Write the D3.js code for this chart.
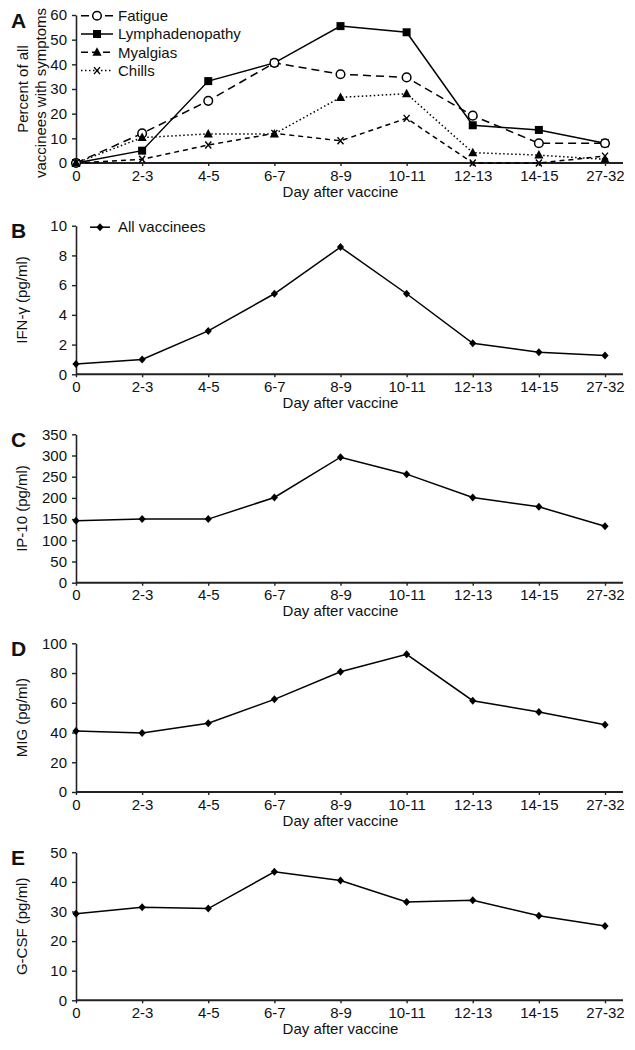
<!DOCTYPE html>
<html>
<head>
<meta charset="utf-8">
<script src="https://cdn.jsdelivr.net/npm/d3@7"></script>
<style>
  html, body { margin: 0; padding: 0; background: #fff; }
  svg { display: block; }
  text { font-family: "Liberation Sans", Arial, sans-serif; fill: #111; }
</style>
</head>
<body>
<svg id="chart" width="635" height="1050"></svg>
<script>
// ---------------- DATA ----------------
const days = ["0", "2-3", "4-5", "6-7", "8-9", "10-11", "12-13", "14-15", "27-32"];

// Panel A: percent of vaccinees with symptoms
const fatigue         = [0, 12.0, 25.2, 40.6, 36.0, 34.7, 19.2, 8.0, 8.0];
const lymphadenopathy = [0, 5.0, 33.2, 40.6, 55.5, 53.0, 15.3, 13.4, 8.0];
const myalgias        = [0, 10.3, 11.8, 11.8, 26.6, 28.1, 4.2, 3.2, 1.5];
const chills          = [0, 1.5, 7.3, 12.0, 9.0, 18.1, 0, 0, 2.8];

// Panels B-E: cytokine levels (all vaccinees)
const ifnGamma = [0.70, 1.00, 2.92, 5.42, 8.56, 5.42, 2.09, 1.48, 1.26];
const ip10     = [146, 150, 150, 201, 296, 256, 201, 179, 133];
const mig      = [41.0, 39.7, 46.2, 62.3, 80.9, 92.6, 61.4, 53.8, 45.3];
const gcsf     = [29.2, 31.4, 31.0, 43.4, 40.5, 33.2, 33.8, 28.6, 25.1];

// Axis ticks
const ticksA = [0, 10, 20, 30, 40, 50, 60];
const ticksB = [0, 2, 4, 6, 8, 10];
const ticksC = [0, 50, 100, 150, 200, 250, 300, 350];
const ticksD = [0, 20, 40, 60, 80, 100];
const ticksE = [0, 10, 20, 30, 40, 50];

const symptomNames = ["Fatigue", "Lymphadenopathy", "Myalgias", "Chills"];
const xTitle = "Day after vaccine";

// ---------------- LAYOUT ----------------
const svg = d3.select("#chart");
const left = 76, rightPt = 605, axisEnd = 623;
const x = d3.scalePoint().domain(days).range([left, rightPt]);
const axisColor = "#222";
const fs = 15;

const panels = [
  { label: "A", top: 15,    bottom: 163,   max: 60,  ticks: ticksA, title: ["Percent of all", "vaccinees with symptoms"] },
  { label: "B", top: 225.7, bottom: 374.3, max: 10,  ticks: ticksB, title: ["IFN-γ (pg/ml)"], data: ifnGamma, legend: true },
  { label: "C", top: 434.3, bottom: 582.7, max: 350, ticks: ticksC, title: ["IP-10 (pg/ml)"], data: ip10 },
  { label: "D", top: 643.3, bottom: 792,   max: 100, ticks: ticksD, title: ["MIG (pg/ml)"], data: mig },
  { label: "E", top: 852.3, bottom: 1000.3, max: 50, ticks: ticksE, title: ["G-CSF (pg/ml)"], data: gcsf }
];

function diamondPath(cx, cy) {
  return `M${cx},${cy - 4}L${cx + 3.6},${cy}L${cx},${cy + 4}L${cx - 3.6},${cy}Z`;
}

function drawMarker(g, type, cx, cy) {
  if (type === "circle") {
    g.append("circle").attr("cx", cx).attr("cy", cy).attr("r", 4.3)
      .attr("fill", "#fff").attr("stroke", "#000").attr("stroke-width", 1.5);
  } else if (type === "square") {
    g.append("rect").attr("x", cx - 4).attr("y", cy - 4).attr("width", 8).attr("height", 8)
      .attr("fill", "#000");
  } else if (type === "triangle") {
    g.append("path").attr("d", `M${cx},${cy - 5}L${cx + 4.6},${cy + 3.5}L${cx - 4.6},${cy + 3.5}Z`)
      .attr("fill", "#000");
  } else if (type === "cross") {
    g.append("path").attr("d", `M${cx - 3},${cy - 3.5}L${cx + 3},${cy + 3.5}M${cx + 3},${cy - 3.5}L${cx - 3},${cy + 3.5}`)
      .attr("stroke", "#000").attr("stroke-width", 1.4).attr("fill", "none");
  } else if (type === "diamond") {
    g.append("path").attr("d", diamondPath(cx, cy)).attr("fill", "#000");
  }
}

panels.forEach((p, i) => {
  const g = svg.append("g");
  const y = d3.scaleLinear().domain([0, p.max]).range([p.bottom, p.top]);

  // Y axis
  const yAxis = d3.axisLeft(y).tickValues(p.ticks).tickSize(4).tickPadding(5).tickSizeOuter(0);
  const gy = g.append("g").attr("transform", `translate(${left},0)`).call(yAxis);
  gy.select(".domain").attr("stroke", axisColor).attr("stroke-width", 1.6);
  gy.selectAll(".tick line").attr("stroke", axisColor).attr("stroke-width", 1.4);
  gy.selectAll(".tick text").attr("font-size", fs).attr("fill", "#111")
    .style("font-family", "'Liberation Sans', Arial, sans-serif");

  // X axis
  const xAxis = d3.axisBottom(x).tickSize(3).tickPadding(4);
  const gx = g.append("g").attr("transform", `translate(0,${p.bottom})`).call(xAxis);
  gx.select(".domain").remove();
  gx.append("line").attr("x1", left).attr("x2", axisEnd).attr("y1", 0).attr("y2", 0)
    .attr("stroke", axisColor).attr("stroke-width", 2);
  gx.selectAll(".tick line").attr("stroke", axisColor).attr("stroke-width", 1.4);
  gx.selectAll(".tick text").attr("font-size", fs).attr("fill", "#111")
    .style("font-family", "'Liberation Sans', Arial, sans-serif");

  // X title
  g.append("text").attr("x", x("8-9")).attr("y", p.bottom + 33.5)
    .attr("text-anchor", "middle").attr("font-size", fs).text(xTitle);

  // Panel letter
  g.append("text").attr("x", 11).attr("y", p.top + 12.5)
    .attr("font-size", 21).attr("font-weight", "bold").text(p.label);

  // Y title
  const midY = (p.top + p.bottom) / 2;
  if (p.title.length === 2) {
    g.append("text").attr("transform", `translate(28,${midY}) rotate(-90)`)
      .attr("text-anchor", "middle").attr("font-size", fs).text(p.title[0]);
    g.append("text").attr("transform", `translate(46,${midY + 4}) rotate(-90)`)
      .attr("text-anchor", "middle").attr("font-size", fs).text(p.title[1]);
  } else {
    g.append("text").attr("transform", `translate(27,${midY}) rotate(-90)`)
      .attr("text-anchor", "middle").attr("font-size", fs).text(p.title[0]);
  }

  const line = d3.line().x((d, j) => x(days[j])).y(d => y(d));

  if (i === 0) {
    const series = [
      { name: symptomNames[1], data: lymphadenopathy, marker: "square",   dash: null,      legendDash: null },
      { name: symptomNames[0], data: fatigue,         marker: "circle",   dash: "8,5",     legendDash: "8,4" },
      { name: symptomNames[3], data: chills,          marker: "cross",    dash: "5,4",     legendDash: "1.5,2.5" },
      { name: symptomNames[2], data: myalgias,        marker: "triangle", dash: "1.5,2.5", legendDash: "7,4" }
    ];
    series.forEach(s => {
      g.append("path").datum(s.data).attr("d", line)
        .attr("fill", "none").attr("stroke", "#000").attr("stroke-width", 1.5)
        .attr("stroke-dasharray", s.dash);
    });
    series.forEach(s => {
      s.data.forEach((v, j) => drawMarker(g, s.marker, x(days[j]), y(v)));
    });
    // Legend
    const legendOrder = [1, 0, 3, 2];
    legendOrder.forEach((si, k) => {
      const s = series[si];
      const ly = 15.7 + k * 18.3;
      g.append("line").attr("x1", 81).attr("x2", 113).attr("y1", ly).attr("y2", ly)
        .attr("stroke", "#000").attr("stroke-width", 1.5).attr("stroke-dasharray", s.legendDash);
      drawMarker(g, s.marker, 97, ly);
      g.append("text").attr("x", 118).attr("y", ly).attr("dy", "0.35em")
        .attr("font-size", fs).text(s.name);
    });
  } else {
    g.append("path").datum(p.data).attr("d", line)
      .attr("fill", "none").attr("stroke", "#000").attr("stroke-width", 1.5);
    p.data.forEach((v, j) => drawMarker(g, "diamond", x(days[j]), y(v)));
    if (p.legend) {
      const ly = p.top + 1.5;
      g.append("line").attr("x1", 90).attr("x2", 110).attr("y1", ly).attr("y2", ly)
        .attr("stroke", "#000").attr("stroke-width", 1.5);
      drawMarker(g, "diamond", 100, ly);
      g.append("text").attr("x", 118).attr("y", ly).attr("dy", "0.35em")
        .attr("font-size", fs).text("All vaccinees");
    }
  }
});
</script>
</body>
</html>
